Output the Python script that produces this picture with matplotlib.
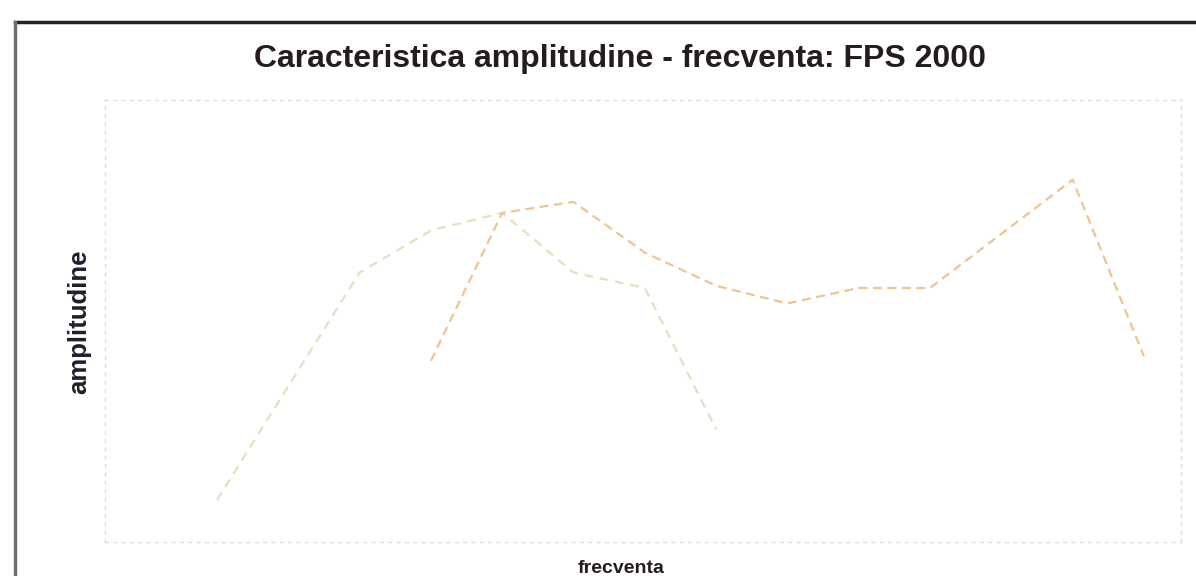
import matplotlib
matplotlib.use("Agg")
import matplotlib.pyplot as plt
from matplotlib.lines import Line2D

# Frequency steps and measured amplitudes for the two recordings
freq_a = [1, 3, 4, 5, 6, 7, 8]
ampl_a = [0.95, 6.1, 7.05, 7.45, 6.1, 5.75, 2.55]

freq_b = [4, 5, 6, 7, 8, 9, 10, 11, 13, 14]
ampl_b = [4.1, 7.45, 7.7, 6.55, 5.8, 5.4, 5.75, 5.75, 8.2, 4.2]

title = "Caracteristica amplitudine - frecventa: FPS 2000"
xlabel = "frecventa"
ylabel = "amplitudine"

plt.rcParams['font.family'] = ['Liberation Sans', 'DejaVu Sans']

fig = plt.figure(figsize=(11.96, 5.76), dpi=100)
fig.patch.set_facecolor("white")

ax = fig.add_axes([0.0878, 0.059, 0.8997, 0.767])
ax.plot(freq_a, ampl_a, color="#e6dfc2", lw=1.6, ls=(0, (4, 3)))
ax.plot(freq_b, ampl_b, color="#f0c490", lw=1.6, ls=(0, (4, 2.5)))

ax.set_xlim(-0.57, 14.52)
ax.set_ylim(0, 10)
ax.set_xticks([])
ax.set_yticks([])
for side in ("left", "right", "top", "bottom"):
    ax.spines[side].set_linestyle((0, (2, 4)))
    ax.spines[side].set_color("#dcdcdc")
    ax.spines[side].set_linewidth(1.0)

# Labels and title
fig.text(0.518, 0.897, title, ha="center", va="center",
         fontsize=23, fontweight="bold", color="#251d1d")
fig.text(0.519, 0.013, xlabel, ha="center", va="center",
         fontsize=14, fontweight="bold", color="#251d1d")
fig.text(0.066, 0.441, ylabel, ha="center", va="center", rotation=90,
         fontsize=18.5, fontweight="bold", color="#251d2a")

# Outer frame: dark top rule and grey left rule
fig.add_artist(Line2D([0.0125, 1.0], [0.962, 0.962], color="#2a2020", lw=2.5))
fig.add_artist(Line2D([0.0125, 0.0125], [0.0, 0.962], color="#707070", lw=2.5))

fig.savefig("out.png", dpi=100, facecolor="white")
